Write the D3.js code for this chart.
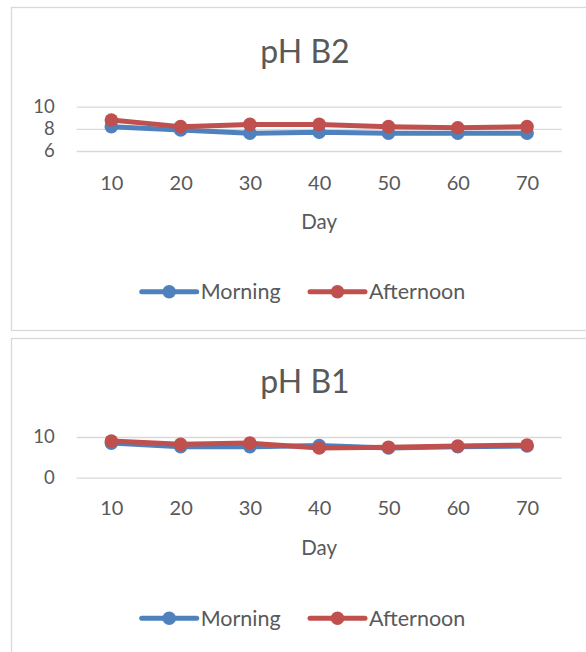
<!DOCTYPE html>
<html>
<head>
<meta charset="utf-8">
<script src="https://cdn.jsdelivr.net/npm/d3@7"></script>
<style>
  body { margin: 0; background: #fff; }
  text { font-family: Lato, "Open Sans", sans-serif; fill: #595959; }
</style>
</head>
<body>
<svg id="chart" width="586" height="652"></svg>
<script>
// Sampling days (x categories)
const days = [10, 20, 30, 40, 50, 60, 70];
const seriesNames = ["Morning", "Afternoon"];
const seriesColors = ["#4F81BD", "#C0504D"];

// pH in basin B2
const b2Morning   = [8.2, 7.9, 7.6, 7.7, 7.6, 7.6, 7.6];
const b2Afternoon = [8.8, 8.2, 8.4, 8.4, 8.2, 8.1, 8.2];
const b2Ticks = [6, 8, 10];

// pH in basin B1
const b1Morning   = [8.5, 7.6, 7.6, 7.9, 7.3, 7.6, 7.8];
const b1Afternoon = [9.0, 8.2, 8.5, 7.3, 7.5, 7.8, 8.0];
const b1Ticks = [0, 10];

const svg = d3.select("#chart");

function drawPanel(cfg) {
  const g = svg.append("g").attr("transform", `translate(0,${cfg.top})`);

  // chart area frame
  g.append("rect")
    .attr("x", 11.5).attr("y", 0.5)
    .attr("width", 620).attr("height", cfg.height)
    .attr("fill", "#fff").attr("stroke", "#D9D9D9").attr("stroke-width", 1.3);

  const x = d3.scalePoint().domain(days).range([76.7, 561.7]).padding(0.5);
  const y = d3.scaleLinear().domain(d3.extent(cfg.ticks)).range([cfg.plotBottom, cfg.plotTop]);

  // title
  g.append("text")
    .attr("x", 305).attr("y", cfg.titleY)
    .attr("text-anchor", "middle")
    .style("font-size", "32px")
    .text(cfg.title);

  // horizontal gridlines + y axis labels
  const yAxis = d3.axisLeft(y).tickValues(cfg.ticks).tickFormat(d3.format("d"))
    .tickSize(-485).tickPadding(22);
  const ya = g.append("g").attr("transform", "translate(76.7,0)").call(yAxis);
  ya.select(".domain").remove();
  ya.selectAll("line").attr("stroke", "#D9D9D9").attr("stroke-width", 1.3);
  ya.selectAll("text").style("font-size", "18.5px").attr("fill", "#595959")
    .attr("font-family", null);

  // category labels
  const xAxis = d3.axisBottom(x).tickSize(0).tickPadding(0);
  const xa = g.append("g").attr("transform", `translate(0,${cfg.xLabelY})`).call(xAxis);
  xa.select(".domain").remove();
  xa.selectAll("text").style("font-size", "20px").attr("fill", "#595959")
    .attr("font-family", null).attr("dy", "0.35em");

  // axis title
  g.append("text")
    .attr("x", 319.2).attr("y", cfg.dayY).attr("dy", "0.35em")
    .attr("text-anchor", "middle")
    .style("font-size", "20.5px")
    .text("Day");

  // series lines and markers
  const line = d3.line().x((d, i) => x(days[i])).y(d => y(d));
  [cfg.morning, cfg.afternoon].forEach((vals, si) => {
    g.append("path")
      .datum(vals)
      .attr("d", line)
      .attr("fill", "none")
      .attr("stroke", seriesColors[si])
      .attr("stroke-width", 5)
      .attr("stroke-linejoin", "round");
    g.selectAll(null)
      .data(vals)
      .enter().append("circle")
      .attr("cx", (d, i) => x(days[i]))
      .attr("cy", d => y(d))
      .attr("r", 6.8)
      .attr("fill", seriesColors[si]);
  });

  // legend
  const legendX = [141.7, 310];
  const lg = g.append("g").attr("transform", `translate(0,${cfg.legendY})`);
  seriesNames.forEach((name, si) => {
    const lx = legendX[si];
    lg.append("line")
      .attr("x1", lx).attr("x2", lx + 55)
      .attr("y1", 0).attr("y2", 0)
      .attr("stroke", seriesColors[si]).attr("stroke-width", 5)
      .attr("stroke-linecap", "round");
    lg.append("circle")
      .attr("cx", lx + 27.5).attr("cy", 0).attr("r", 6.8)
      .attr("fill", seriesColors[si]);
    lg.append("text")
      .attr("x", lx + 59).attr("y", 0).attr("dy", "0.35em")
      .style("font-size", "21.5px")
      .text(name);
  });
}

drawPanel({
  top: 7, height: 323, title: "pH B2",
  titleY: 56, ticks: b2Ticks, plotTop: 99.7, plotBottom: 144,
  xLabelY: 176, dayY: 215, legendY: 284.7,
  morning: b2Morning, afternoon: b2Afternoon
});

drawPanel({
  top: 338, height: 330, title: "pH B1",
  titleY: 55, ticks: b1Ticks, plotTop: 99, plotBottom: 139.7,
  xLabelY: 170, dayY: 210, legendY: 280.3,
  morning: b1Morning, afternoon: b1Afternoon
});
</script>
</body>
</html>
